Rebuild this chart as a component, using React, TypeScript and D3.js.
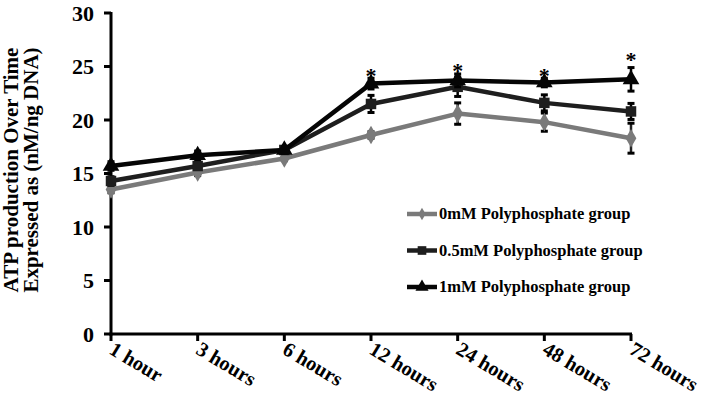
import React from "react";
import * as d3 from "d3";

const categories = ["1 hour", "3 hours", "6 hours", "12 hours", "24 hours", "48 hours", "72 hours"];
const seriesNames = ["0mM Polyphosphate group", "0.5mM Polyphosphate group", "1mM Polyphosphate group"];
const values0 = [13.5, 15.1, 16.4, 18.6, 20.6, 19.8, 18.3];
const err0 = [0.3, 0.3, 0.2, 0.3, 1.0, 0.85, 1.4];
const values05 = [14.3, 15.7, 17.2, 21.5, 23.1, 21.6, 20.8];
const err05 = [0.4, 0.3, 0.3, 0.8, 0.9, 0.75, 0.75];
const values1 = [15.7, 16.7, 17.2, 23.4, 23.7, 23.5, 23.8];
const err1 = [0.4, 0.4, 0.3, 0.5, 0.6, 0.4, 1.1];
const starLevels = [null, null, null, 24.9, 25.4, 24.9, 26.4];
const yTicks = [0, 5, 10, 15, 20, 25, 30];
const yTitle = ["ATP production Over Time", "Expressed as (nM/ng DNA)"];

const W = 709;
const H = 402;
const FONT = "'Liberation Serif', 'Times New Roman', serif";

const colors = ["#7a7a7a", "#1e1e1e", "#050505"];
const markers = ["diamond", "square", "triangle"];

function Marker({ type, x, y, color, s }: { type: string; x: number; y: number; color: string; s: number }) {
  const sym = type === "diamond" ? d3.symbolDiamond : type === "square" ? d3.symbolSquare : d3.symbolTriangle;
  const path = d3.symbol().type(sym).size(s)();
  return <path d={path || ""} transform={`translate(${x},${y})`} fill={color} />;
}

export default function App() {
  const x = d3.scalePoint<string>().domain(categories).range([111, 631]);
  const y = d3.scaleLinear().domain([0, 30]).range([334, 13]);
  const line = d3
    .line<number>()
    .x((_, i) => x(categories[i]) as number)
    .y((d) => y(d));

  const series = [
    { name: seriesNames[0], vals: values0, errs: err0 },
    { name: seriesNames[1], vals: values05, errs: err05 },
    { name: seriesNames[2], vals: values1, errs: err1 },
  ];
  const markerSize = [100, 110, 120];

  return (
    <div style={{ position: "fixed", left: 0, top: 0 }}>
      <svg width={W} height={H} style={{ display: "block", background: "#fff" }}>
        {/* Y axis title */}
        {yTitle.map((t, i) => (
          <text
            key={t}
            transform={`translate(${18 + i * 20},170) rotate(-90)`}
            textAnchor="middle"
            fontFamily={FONT}
            fontWeight="bold"
            fontSize={21}
            fill="#000"
          >
            {t}
          </text>
        ))}

        {/* Y ticks */}
        {yTicks.map((t) => (
          <g key={t}>
            <line x1={104} x2={111} y1={y(t)} y2={y(t)} stroke="#000" strokeWidth={3} />
            <text
              x={94}
              y={y(t)}
              dy="0.35em"
              textAnchor="end"
              fontFamily={FONT}
              fontWeight="bold"
              fontSize={22}
              fill="#000"
            >
              {t}
            </text>
          </g>
        ))}

        {/* X ticks */}
        {categories.map((c) => (
          <g key={c}>
            <line x1={x(c)} x2={x(c)} y1={334} y2={341} stroke="#000" strokeWidth={3} />
            <text
              transform={`translate(${(x(c) as number) - 3},${353}) rotate(31)`}
              textAnchor="start"
              fontFamily={FONT}
              fontWeight="bold"
              fontSize={20.5}
              fill="#000"
            >
              {c}
            </text>
          </g>
        ))}

        {/* Axes */}
        <line x1={111} x2={111} y1={12} y2={335.5} stroke="#000" strokeWidth={3} />
        <line x1={109.5} x2={632} y1={334} y2={334} stroke="#000" strokeWidth={3} />

        {/* Series */}
        {series.map((s, si) => (
          <g key={s.name}>
            {s.vals.map((v, i) => {
              const cx = x(categories[i]) as number;
              return (
                <g key={i}>
                  <line x1={cx} x2={cx} y1={y(v - s.errs[i])} y2={y(v + s.errs[i])} stroke={si === 0 ? "#222" : "#000"} strokeWidth={2.5} />
                  <line x1={cx - 3.5} x2={cx + 3.5} y1={y(v - s.errs[i])} y2={y(v - s.errs[i])} stroke="#000" strokeWidth={3} />
                  <line x1={cx - 3.5} x2={cx + 3.5} y1={y(v + s.errs[i])} y2={y(v + s.errs[i])} stroke="#000" strokeWidth={3} />
                </g>
              );
            })}
            <path d={line(s.vals) || ""} fill="none" stroke={colors[si]} strokeWidth={4.5} strokeLinejoin="round" />
            {s.vals.map((v, i) => (
              <Marker key={i} type={markers[si]} x={x(categories[i]) as number} y={y(v)} color={colors[si]} s={markerSize[si]} />
            ))}
          </g>
        ))}

        {/* Significance stars */}
        {starLevels.map((lv, i) =>
          lv === null ? null : (
            <text
              key={i}
              x={x(categories[i]) as number}
              y={y(lv)}
              dy="0.7em"
              textAnchor="middle"
              fontFamily={FONT}
              fontWeight="bold"
              fontSize={22}
              fill="#000"
            >
              *
            </text>
          )
        )}

        {/* Legend */}
        {seriesNames.map((n, i) => {
          const ly = 214 + i * 36.5;
          return (
            <g key={n}>
              <line x1={407} x2={437} y1={ly} y2={ly} stroke={colors[i]} strokeWidth={4.5} />
              <Marker type={markers[i]} x={422} y={ly} color={colors[i]} s={i === 0 ? 45 : 75} />
              <text
                x={439}
                y={ly}
                dy="0.33em"
                fontFamily={FONT}
                fontWeight="bold"
                fontSize={16.5}
                fill="#000"
              >
                {n}
              </text>
            </g>
          );
        })}
      </svg>
    </div>
  );
}
